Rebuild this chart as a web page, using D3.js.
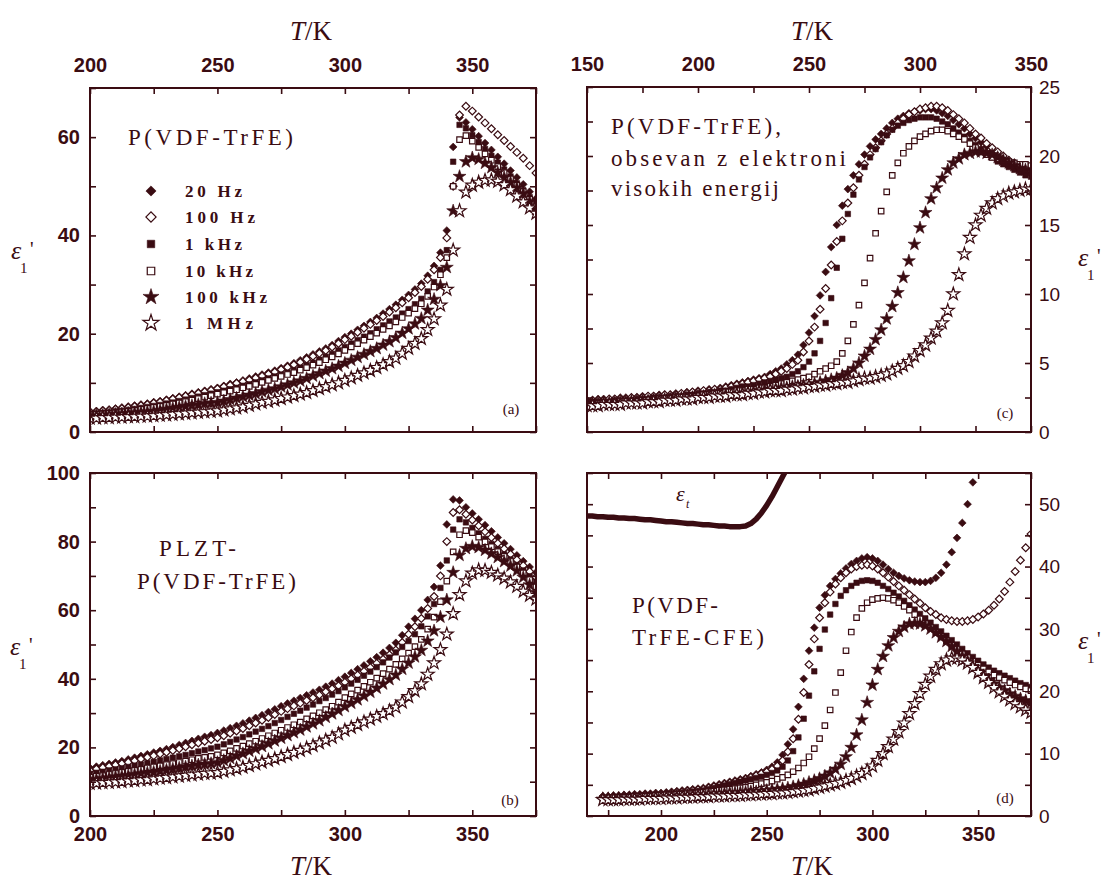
<!DOCTYPE html>
<html lang="sl">
<head>
<meta charset="UTF-8">
<title>Dielektricnost P(VDF-TrFE)</title>
<script src="https://cdn.jsdelivr.net/npm/d3@7"></script>
<style>
  body { margin: 0; background: #fff; }
  svg { display: block; }
</style>
</head>
<body>
<div id="chart"></div>
<script>
// measurement temperatures (K)
const tempAB = [
  200,202.5,205,207.5,210,212.5,215,217.5,220,222.5,
  225,227.5,230,232.5,235,237.5,240,242.5,245,247.5,
  250,252.5,255,257.5,260,262.5,265,267.5,270,272.5,
  275,277.5,280,282.5,285,287.5,290,292.5,295,297.5,
  300,302.5,305,307.5,310,312.5,315,317.5,320,322.5,
  325,327.5,330,332.5,335,337.5,340,342.5,345,347.5,
  350,352.5,355,357.5,360,362.5,365,367.5,370,372.5,
  375];
const tempC = [
  150,152.5,155,157.5,160,162.5,165,167.5,170,172.5,
  175,177.5,180,182.5,185,187.5,190,192.5,195,197.5,
  200,202.5,205,207.5,210,212.5,215,217.5,220,222.5,
  225,227.5,230,232.5,235,237.5,240,242.5,245,247.5,
  250,252.5,255,257.5,260,262.5,265,267.5,270,272.5,
  275,277.5,280,282.5,285,287.5,290,292.5,295,297.5,
  300,302.5,305,307.5,310,312.5,315,317.5,320,322.5,
  325,327.5,330,332.5,335,337.5,340,342.5,345,347.5,
  350];
const tempD = [
  172.5,175,177.5,180,182.5,185,187.5,190,192.5,195,
  197.5,200,202.5,205,207.5,210,212.5,215,217.5,220,
  222.5,225,227.5,230,232.5,235,237.5,240,242.5,245,
  247.5,250,252.5,255,257.5,260,262.5,265,267.5,270,
  272.5,275,277.5,280,282.5,285,287.5,290,292.5,295,
  297.5,300,302.5,305,307.5,310,312.5,315,317.5,320,
  322.5,325,327.5,330,332.5,335,337.5,340,342.5,345,
  347.5,350,352.5,355,357.5,360,362.5,365,367.5,370,
  372.5,375];
const tempEt = [
  165,167.5,170,172.5,175,177.5,180,182.5,185,187.5,
  190,192.5,195,197.5,200,202.5,205,207.5,210,212.5,
  215,217.5,220,222.5,225,227.5,230,232.5,235,237.5,
  240,242.5,245,247.5,250,252.5,255,257.5,260];

const freqs = ["20 Hz", "100 Hz", "1 kHz", "10 kHz", "100 kHz", "1 MHz"];

// (a) P(VDF-TrFE)
const a20 = [
  4.2,4.3,4.5,4.6,4.8,5.0,5.2,5.4,5.6,5.8,
  6.1,6.3,6.6,6.9,7.2,7.5,7.8,8.1,8.4,8.7,
  9.0,9.4,9.8,10.1,10.5,10.9,11.3,11.7,12.1,12.5,
  13.0,13.5,14.0,14.6,15.2,15.8,16.4,17.0,17.7,18.5,
  19.3,20.0,20.8,21.6,22.4,23.2,24.1,25.0,25.9,26.9,
  27.9,29.0,30.2,31.8,33.8,36.5,41.0,58.0,64.0,63.0,
  61.6,60.2,58.8,57.4,56.0,54.6,53.2,51.8,50.4,48.9,
  47.5];
const a100 = [
  4.0,4.1,4.3,4.4,4.6,4.8,5.0,5.2,5.4,5.6,
  5.9,6.1,6.4,6.7,7.0,7.3,7.6,7.9,8.2,8.5,
  8.8,9.2,9.5,9.9,10.3,10.6,11.0,11.4,11.8,12.2,
  12.7,13.2,13.7,14.2,14.8,15.4,16.0,16.6,17.3,18.0,
  18.8,19.5,20.3,21.1,21.9,22.7,23.5,24.4,25.3,26.3,
  27.3,28.4,29.6,31.1,33.0,35.5,39.5,50.0,64.5,66.3,
  65.3,64.1,62.9,61.7,60.5,59.3,58.1,56.9,55.7,54.2,
  52.7];
const a1k = [
  3.7,3.8,3.9,4.0,4.2,4.3,4.5,4.7,4.9,5.1,
  5.3,5.5,5.8,6.0,6.3,6.6,6.9,7.2,7.5,7.8,
  8.1,8.4,8.7,9.0,9.4,9.7,10.1,10.5,10.9,11.3,
  11.7,12.1,12.6,13.1,13.6,14.1,14.7,15.3,15.9,16.6,
  17.3,18.0,18.7,19.4,20.1,20.9,21.7,22.5,23.3,24.1,
  25.0,26.0,27.1,28.6,30.5,33.0,37.0,55.0,62.5,61.8,
  60.4,59.0,57.6,56.2,54.8,53.4,52.0,50.6,49.2,47.8,
  46.5];
const a10k = [
  3.5,3.6,3.7,3.8,3.9,4.1,4.2,4.4,4.6,4.8,
  5.0,5.2,5.4,5.7,5.9,6.2,6.5,6.8,7.1,7.4,
  7.7,8.0,8.3,8.6,9.0,9.3,9.7,10.1,10.5,10.9,
  11.3,11.7,12.1,12.6,13.1,13.6,14.1,14.7,15.3,15.9,
  16.6,17.3,18.0,18.7,19.4,20.1,20.9,21.6,22.4,23.3,
  24.2,25.1,26.1,27.6,29.5,32.0,35.5,50.0,59.5,60.3,
  59.2,57.9,56.6,55.3,54.0,52.8,51.5,50.2,48.9,47.4,
  45.8];
const a100k = [
  3.2,3.3,3.4,3.5,3.6,3.7,3.8,3.9,4.0,4.1,
  4.2,4.4,4.6,4.8,5.0,5.2,5.4,5.6,5.8,5.9,
  6.0,6.3,6.6,6.9,7.2,7.5,7.8,8.2,8.5,8.8,
  9.2,9.6,10.0,10.4,10.9,11.4,11.9,12.4,12.9,13.4,
  14.0,14.6,15.2,15.8,16.4,17.0,17.7,18.4,19.2,20.1,
  21.0,22.0,23.1,24.8,27.0,29.8,33.5,45.0,52.0,55.0,
  55.8,55.5,54.7,53.8,52.8,51.8,50.8,49.7,48.5,46.9,
  45.3];
const a1M = [
  2.8,2.8,2.9,2.9,3.0,3.0,3.1,3.1,3.2,3.2,
  3.3,3.4,3.5,3.6,3.7,3.8,3.9,4.0,4.1,4.2,
  4.3,4.5,4.7,4.9,5.1,5.4,5.7,6.0,6.2,6.5,
  6.8,7.1,7.4,7.7,8.0,8.4,8.8,9.2,9.6,10.0,
  10.5,11.0,11.5,12.0,12.5,13.1,13.7,14.3,15.0,16.0,
  17.0,18.0,19.0,20.8,23.0,25.8,29.0,37.0,45.0,48.8,
  50.2,50.8,51.2,51.3,51.0,50.3,49.3,48.0,46.8,45.6,
  44.5];

// (b) PLZT - P(VDF-TrFE)
const b20 = [
  14.0,14.4,14.8,15.2,15.6,16.0,16.5,17.0,17.5,18.0,
  18.5,19.0,19.5,20.1,20.7,21.3,21.9,22.5,23.1,23.6,
  24.2,24.9,25.6,26.3,27.0,27.8,28.6,29.4,30.3,31.1,
  32.0,32.8,33.6,34.4,35.2,36.0,36.8,37.7,38.6,39.6,
  40.6,41.7,42.8,43.9,45.1,46.3,47.6,49.0,50.5,52.7,
  55.2,57.5,60.0,63.0,66.8,73.0,85.0,92.3,92.0,90.0,
  88.2,86.5,84.8,83.0,81.2,79.5,77.8,76.0,74.3,72.6,
  71.0];
const b100 = [
  13.3,13.7,14.1,14.5,14.9,15.3,15.7,16.1,16.6,17.1,
  17.6,18.1,18.6,19.1,19.6,20.2,20.8,21.3,21.8,22.3,
  22.8,23.4,24.1,24.8,25.5,26.3,27.1,27.9,28.7,29.6,
  30.5,31.3,32.1,32.9,33.7,34.5,35.3,36.2,37.1,38.0,
  39.0,40.0,41.1,42.2,43.3,44.5,45.7,47.0,48.4,50.6,
  53.0,55.2,57.6,60.5,64.0,70.0,80.0,88.5,89.3,88.0,
  86.3,84.6,82.9,81.2,79.5,77.9,76.3,74.7,73.0,71.3,
  69.6];
const b1k = [
  12.3,12.6,12.9,13.3,13.6,13.9,14.3,14.7,15.0,15.4,
  15.8,16.2,16.6,17.0,17.4,17.8,18.3,18.8,19.2,19.7,
  20.2,20.9,21.6,22.3,23.0,23.8,24.6,25.4,26.2,27.1,
  28.0,28.9,29.8,30.7,31.6,32.5,33.5,34.4,35.4,36.4,
  37.5,38.6,39.7,40.9,42.1,43.4,44.8,46.2,47.7,49.3,
  51.0,53.0,55.3,58.2,61.8,66.5,74.5,83.5,86.5,85.6,
  84.0,82.4,80.8,79.3,77.8,76.3,74.8,73.2,71.6,69.9,
  68.3];
const b10k = [
  11.3,11.6,11.8,12.1,12.4,12.7,13.0,13.3,13.6,14.0,
  14.3,14.6,15.0,15.3,15.6,16.0,16.4,16.8,17.1,17.4,
  17.8,18.4,19.0,19.7,20.4,21.1,21.8,22.6,23.4,24.2,
  25.0,25.8,26.6,27.4,28.3,29.2,30.1,31.0,32.0,33.2,
  34.5,35.6,36.7,37.8,39.0,40.2,41.5,42.8,44.2,45.8,
  47.5,49.4,51.5,54.5,58.0,62.5,68.5,77.0,82.0,83.2,
  82.6,81.3,79.9,78.5,77.1,75.7,74.2,72.6,70.9,68.9,
  66.8];
const b100k = [
  10.5,10.7,10.9,11.1,11.4,11.6,11.8,12.1,12.3,12.6,
  12.8,13.1,13.4,13.7,14.0,14.3,14.6,14.9,15.1,15.3,
  15.6,16.2,16.8,17.5,18.2,18.9,19.6,20.3,21.1,21.9,
  22.7,23.5,24.3,25.1,26.0,26.9,27.8,28.8,29.8,30.8,
  31.9,32.9,33.9,35.0,36.1,37.3,38.5,39.8,41.1,42.8,
  44.6,46.4,48.3,51.0,54.0,58.0,63.0,71.0,76.0,78.0,
  78.6,78.3,77.5,76.5,75.4,74.2,72.9,71.5,69.6,67.4,
  65.2];
const b1M = [
  9.5,9.6,9.7,9.8,9.9,10.0,10.2,10.3,10.5,10.6,
  10.8,11.0,11.2,11.4,11.6,11.8,12.0,12.2,12.4,12.5,
  12.6,13.0,13.4,13.8,14.2,14.7,15.2,15.7,16.2,16.7,
  17.3,17.9,18.5,19.1,19.8,20.5,21.3,22.1,22.9,23.9,
  25.0,25.8,26.6,27.4,28.2,29.0,29.8,30.7,31.7,33.2,
  34.8,36.5,38.5,41.3,44.6,48.5,53.0,59.0,64.5,68.5,
  70.8,71.7,71.6,71.0,70.2,69.3,68.2,66.9,65.5,64.3,
  63.2];

// (c) P(VDF-TrFE), obsevan z elektroni visokih energij
const c20 = [
  2.3,2.3,2.4,2.4,2.4,2.4,2.5,2.5,2.5,2.5,
  2.6,2.6,2.6,2.7,2.7,2.7,2.8,2.8,2.9,2.9,
  3.0,3.0,3.1,3.1,3.2,3.3,3.4,3.5,3.6,3.7,
  3.8,3.9,4.0,4.2,4.4,4.6,4.9,5.2,5.6,6.3,
  7.2,8.4,9.9,11.6,13.4,15.0,16.4,17.6,18.6,19.4,
  20.1,20.7,21.2,21.6,22.0,22.4,22.7,22.9,23.1,23.2,
  23.3,23.4,23.4,23.3,23.1,22.9,22.6,22.3,22.0,21.6,
  21.3,21.0,20.7,20.4,20.1,19.8,19.6,19.4,19.2,19.0,
  18.8];
const c100 = [
  2.2,2.3,2.3,2.3,2.4,2.4,2.4,2.4,2.5,2.5,
  2.5,2.6,2.6,2.6,2.7,2.7,2.7,2.8,2.8,2.9,
  2.9,3.0,3.0,3.1,3.1,3.2,3.3,3.4,3.5,3.6,
  3.7,3.8,3.9,4.0,4.2,4.4,4.6,4.9,5.2,5.8,
  6.6,7.6,8.9,10.4,12.1,13.8,15.3,16.6,17.7,18.6,
  19.4,20.1,20.6,21.1,21.6,22.0,22.4,22.7,23.0,23.2,
  23.4,23.5,23.6,23.6,23.5,23.3,23.0,22.7,22.4,22.0,
  21.6,21.3,20.9,20.6,20.3,20.0,19.7,19.5,19.3,19.1,
  18.9];
const c1k = [
  2.1,2.2,2.2,2.2,2.2,2.3,2.3,2.3,2.3,2.4,
  2.4,2.4,2.5,2.5,2.5,2.6,2.6,2.6,2.7,2.7,
  2.8,2.8,2.9,2.9,3.0,3.0,3.1,3.2,3.3,3.3,
  3.4,3.5,3.6,3.7,3.8,3.9,4.0,4.2,4.4,4.7,
  5.1,5.7,6.6,7.9,9.7,11.9,14.0,15.8,17.2,18.3,
  19.2,19.9,20.5,21.0,21.5,21.9,22.2,22.4,22.6,22.7,
  22.8,22.8,22.8,22.7,22.5,22.3,22.0,21.7,21.4,21.1,
  20.8,20.5,20.2,19.9,19.6,19.4,19.2,19.0,18.8,18.6,
  18.5];
const c10k = [
  2.0,2.0,2.1,2.1,2.1,2.1,2.2,2.2,2.2,2.2,
  2.3,2.3,2.3,2.4,2.4,2.4,2.5,2.5,2.5,2.6,
  2.6,2.7,2.7,2.8,2.8,2.9,2.9,3.0,3.0,3.1,
  3.1,3.2,3.2,3.3,3.4,3.5,3.6,3.7,3.8,3.9,
  4.0,4.2,4.4,4.6,4.8,5.1,5.7,6.6,7.8,9.2,
  10.8,12.6,14.4,16.0,17.4,18.6,19.5,20.2,20.7,21.1,
  21.4,21.6,21.8,21.9,21.9,21.8,21.6,21.4,21.2,20.9,
  20.6,20.3,20.1,19.9,19.8,19.7,19.6,19.5,19.4,19.4,
  19.3];
const c100k = [
  2.0,2.0,2.0,2.0,2.1,2.1,2.1,2.1,2.2,2.2,
  2.2,2.2,2.3,2.3,2.3,2.3,2.4,2.4,2.4,2.5,
  2.5,2.5,2.6,2.6,2.6,2.7,2.7,2.8,2.8,2.9,
  2.9,3.0,3.0,3.1,3.1,3.2,3.2,3.3,3.3,3.4,
  3.4,3.5,3.6,3.7,3.8,3.9,4.1,4.3,4.6,5.0,
  5.5,6.0,6.7,7.4,8.2,9.1,10.1,11.2,12.4,13.6,
  14.8,15.9,16.9,17.7,18.4,19.0,19.5,19.8,20.1,20.2,
  20.3,20.3,20.2,20.1,19.9,19.7,19.5,19.3,19.1,19.0,
  18.9];
const c1M = [
  1.9,1.9,1.9,2.0,2.0,2.0,2.0,2.1,2.1,2.1,
  2.1,2.2,2.2,2.2,2.3,2.3,2.3,2.4,2.4,2.4,
  2.5,2.5,2.5,2.6,2.6,2.6,2.7,2.7,2.7,2.8,
  2.8,2.9,2.9,3.0,3.0,3.0,3.1,3.1,3.2,3.2,
  3.3,3.3,3.4,3.4,3.5,3.5,3.6,3.6,3.7,3.8,
  3.9,3.9,4.0,4.1,4.2,4.4,4.6,4.8,5.1,5.5,
  5.9,6.3,6.8,7.3,7.9,8.8,10.0,11.4,12.9,14.1,
  15.0,15.7,16.2,16.6,16.9,17.1,17.3,17.4,17.5,17.6,
  17.6];

// (d) P(VDF-TrFE-CFE)
const d20 = [
  3.2,3.2,3.3,3.3,3.4,3.4,3.5,3.5,3.6,3.6,
  3.7,3.7,3.8,3.9,4.0,4.1,4.2,4.3,4.4,4.5,
  4.7,4.9,5.1,5.3,5.5,5.7,5.9,6.1,6.4,6.7,
  7.0,7.4,7.9,8.6,9.8,11.5,13.9,17.5,22.0,26.5,
  30.2,33.4,35.4,36.9,38.0,38.9,39.7,40.4,40.9,41.3,
  41.5,41.3,40.9,40.3,39.6,39.0,38.5,38.1,37.8,37.6,
  37.5,37.5,37.7,38.2,39.0,40.3,42.3,44.6,47.0,50.0,
  53.5,57.5,null,null,null,null,null,null,null,null,
  null,null];
const d100 = [
  3.0,3.0,3.1,3.1,3.2,3.2,3.3,3.3,3.4,3.4,
  3.5,3.5,3.6,3.7,3.8,3.9,4.0,4.1,4.2,4.3,
  4.5,4.7,4.9,5.1,5.3,5.5,5.7,5.9,6.2,6.5,
  6.8,7.1,7.5,8.0,8.9,10.3,12.4,15.5,19.8,24.3,
  28.4,31.8,34.2,35.9,37.2,38.2,39.0,39.6,40.0,40.2,
  40.3,40.1,39.6,39.0,38.3,37.6,36.9,36.2,35.5,34.8,
  34.1,33.4,32.8,32.3,31.8,31.5,31.3,31.2,31.2,31.3,
  31.5,31.9,32.4,33.0,33.8,34.8,36.0,37.5,39.2,41.0,
  43.0,45.2];
const d1k = [
  2.9,2.9,3.0,3.0,3.1,3.1,3.2,3.2,3.3,3.3,
  3.4,3.4,3.5,3.5,3.6,3.7,3.8,3.9,4.0,4.1,
  4.3,4.5,4.7,4.9,5.1,5.3,5.5,5.7,5.9,6.1,
  6.3,6.6,6.9,7.3,7.9,8.9,10.4,12.6,15.6,19.3,
  23.2,26.8,29.9,32.3,34.0,35.3,36.2,36.9,37.4,37.7,
  37.8,37.7,37.4,36.9,36.4,35.8,35.2,34.5,33.8,33.1,
  32.4,31.7,31.0,30.3,29.6,28.9,28.2,27.5,26.8,26.1,
  25.5,24.9,24.3,23.8,23.3,22.9,22.5,22.1,21.7,21.3,
  21.0,20.7];
const d10k = [
  2.8,2.8,2.9,2.9,3.0,3.0,3.1,3.1,3.2,3.2,
  3.3,3.3,3.4,3.4,3.5,3.5,3.6,3.6,3.7,3.8,
  3.9,4.0,4.1,4.2,4.3,4.4,4.5,4.6,4.8,5.0,
  5.2,5.4,5.6,5.9,6.2,6.6,7.1,7.7,8.5,9.5,
  10.8,12.4,14.5,17.0,19.8,23.0,26.5,29.5,31.8,33.3,
  34.2,34.7,34.9,35.0,34.9,34.6,34.2,33.6,33.0,32.3,
  31.6,30.9,30.2,29.5,28.8,28.1,27.4,26.7,26.0,25.4,
  24.8,24.2,23.6,23.1,22.6,22.2,21.8,21.4,21.0,20.7,
  20.4,20.1];
const d100k = [
  2.7,2.7,2.7,2.8,2.8,2.8,2.9,2.9,2.9,3.0,
  3.0,3.0,3.1,3.1,3.2,3.2,3.3,3.3,3.4,3.4,
  3.5,3.5,3.6,3.6,3.7,3.7,3.8,3.8,3.9,3.9,
  4.0,4.1,4.2,4.3,4.4,4.5,4.7,4.9,5.1,5.4,
  5.7,6.0,6.4,6.9,7.5,8.3,9.5,11.0,13.0,15.4,
  18.2,21.0,23.5,25.6,27.3,28.6,29.6,30.3,30.8,30.9,
  30.8,30.5,30.0,29.4,28.7,28.0,27.2,26.4,25.6,24.8,
  24.0,23.2,22.5,21.8,21.2,20.6,20.1,19.6,19.2,18.8,
  18.5,18.2];
const d1M = [
  2.6,2.6,2.6,2.6,2.7,2.7,2.7,2.7,2.8,2.8,
  2.8,2.8,2.9,2.9,2.9,3.0,3.0,3.0,3.1,3.1,
  3.1,3.2,3.2,3.2,3.3,3.3,3.3,3.4,3.4,3.5,
  3.5,3.6,3.6,3.7,3.7,3.8,3.9,4.0,4.1,4.2,
  4.4,4.6,4.8,5.0,5.2,5.4,5.7,6.0,6.4,6.8,
  7.3,8.0,8.9,10.0,11.1,12.3,13.5,14.9,16.4,18.0,
  19.6,21.1,22.4,23.5,24.4,25.0,25.3,25.3,25.0,24.5,
  23.8,23.0,22.2,21.4,20.6,19.9,19.2,18.6,18.0,17.5,
  17.0,16.6];
// epsilon_t curve in (d)
const dEt = [
  48.1,48.1,48.0,48.0,47.9,47.9,47.8,47.8,47.7,47.7,
  47.6,47.5,47.5,47.4,47.3,47.2,47.2,47.1,47.0,46.9,
  46.9,46.8,46.7,46.7,46.6,46.5,46.5,46.4,46.4,46.4,
  46.5,46.9,47.6,48.6,49.8,51.2,52.8,54.4,56.0];

const ink = "#3a0c12";
const markerKind = ["diamond", "diamond", "square", "square", "star", "star"];
const markerFilled = [true, false, true, false, true, false];
const dataArea = { diamond: 30, square: 30, star: 52 };
const legendArea = { diamond: 52, square: 56, star: 80 };
const symbolType = { diamond: d3.symbolSquare, square: d3.symbolSquare, star: d3.symbolStar };

const svg = d3.select("#chart").append("svg")
    .attr("width", 1107)
    .attr("height", 880)
    .style("background", "#fff");

function addText(x, y, str, o) {
    const t = svg.append("text")
        .attr("x", x).attr("y", y)
        .attr("fill", ink)
        .style("font-family", o.family || "'Liberation Serif', serif")
        .style("font-size", (o.size || 20) + "px")
        .style("font-weight", o.weight || "normal")
        .style("font-style", o.style || "normal")
        .attr("text-anchor", o.anchor || "start")
        .text(str);
    if (o.len) t.attr("textLength", o.len).attr("lengthAdjust", "spacing");
    return t;
}

function marker(g, k, area, cx, cy) {
    const kind = markerKind[k];
    g.append("path")
        .attr("d", d3.symbol(symbolType[kind], area[kind])())
        .attr("transform", `translate(${cx},${cy})` + (kind === "diamond" ? " rotate(45)" : ""))
        .attr("fill", markerFilled[k] ? ink : "#fff")
        .attr("stroke", ink)
        .attr("stroke-width", markerFilled[k] ? 0.6 : 1.2);
}

function drawPanel(p) {
    const [x0, x1, y0, y1] = p.box;
    const x = d3.scaleLinear().domain(p.xDom).range([x0, x1]);
    const y = d3.scaleLinear().domain(p.yDom).range([y1, y0]);

    svg.append("clipPath").attr("id", "clip-" + p.id)
        .append("rect").attr("x", x0).attr("y", y0).attr("width", x1 - x0).attr("height", y1 - y0);
    const plot = svg.append("g").attr("clip-path", `url(#clip-${p.id})`);

    if (p.line) {
        plot.append("path")
            .datum(d3.zip(p.line.temps, p.line.vals))
            .attr("d", d3.line().x(d => x(d[0])).y(d => y(d[1])))
            .attr("fill", "none").attr("stroke", ink)
            .attr("stroke-width", 5.5).attr("stroke-linejoin", "round");
    }

    p.series.forEach((vals, k) => {
        const g = plot.append("g");
        p.temps.forEach((t, i) => {
            if (vals[i] == null) return;
            marker(g, k, dataArea, x(t), y(vals[i]));
        });
    });

    // frame
    svg.append("rect")
        .attr("x", x0).attr("y", y0).attr("width", x1 - x0).attr("height", y1 - y0)
        .attr("fill", "none").attr("stroke", ink).attr("stroke-width", 2);

    // ticks on all four sides, labels only on the outer ones
    const sides = [
        { ax: d3.axisTop(x), at: `translate(0,${y0})`, vals: p.xTicks, lab: p.xSide === "top" ? p.xLab : [], pad: 16, cls: "x" },
        { ax: d3.axisBottom(x), at: `translate(0,${y1})`, vals: p.xTicks, lab: p.xSide === "bottom" ? p.xLab : [], pad: 11, cls: "x" },
        { ax: d3.axisLeft(y), at: `translate(${x0},0)`, vals: p.yTicks, lab: p.ySide === "left" ? p.yLab : [], pad: 10, cls: "yl" },
        { ax: d3.axisRight(y), at: `translate(${x1},0)`, vals: p.yTicks, lab: p.ySide === "right" ? p.yLab : [], pad: 8, cls: "yr" }
    ];
    sides.forEach(s => {
        const g = svg.append("g").attr("transform", s.at)
            .call(s.ax.tickValues(s.vals).tickSize(-6).tickPadding(s.pad)
                .tickFormat(v => s.lab.includes(v) ? String(v) : ""));
        g.select(".domain").remove();
        g.selectAll(".tick line").attr("stroke", ink).attr("stroke-width", 1.6);
        g.selectAll(".tick text")
            .attr("fill", ink)
            .style("font-family", "'Liberation Sans', Arial, sans-serif")
            .style("font-size", s.cls === "yr" ? "19px" : "20px")
            .style("font-weight", s.cls === "yr" ? "normal" : "bold");
    });

    addText(p.tag[0], p.tag[1], p.tag[2], { size: 15, anchor: "middle" });
}

const panels = [
    { id: "a", box: [90, 536, 88, 432], xDom: [200, 375], yDom: [0, 70], temps: tempAB,
      series: [a20, a100, a1k, a10k, a100k, a1M],
      xTicks: d3.range(200, 376, 25), xLab: [200, 250, 300, 350], xSide: "top",
      yTicks: d3.range(0, 71, 10), yLab: [0, 20, 40, 60], ySide: "left", tag: [511, 414, "(a)"] },
    { id: "b", box: [90, 536, 473, 816], xDom: [200, 375], yDom: [0, 100], temps: tempAB,
      series: [b20, b100, b1k, b10k, b100k, b1M],
      xTicks: d3.range(200, 376, 25), xLab: [200, 250, 300, 350], xSide: "bottom",
      yTicks: d3.range(0, 101, 10), yLab: [0, 20, 40, 60, 80, 100], ySide: "left", tag: [510, 805, "(b)"] },
    { id: "c", box: [587, 1031, 87, 432], xDom: [150, 350], yDom: [0, 25], temps: tempC,
      series: [c20, c100, c1k, c10k, c100k, c1M],
      xTicks: d3.range(150, 351, 25), xLab: [150, 200, 250, 300, 350], xSide: "top",
      yTicks: d3.range(0, 25.1, 2.5), yLab: [0, 5, 10, 15, 20, 25], ySide: "right", tag: [1005, 418, "(c)"] },
    { id: "d", box: [587, 1031, 473, 816], xDom: [165, 375], yDom: [0, 55], temps: tempD,
      series: [d20, d100, d1k, d10k, d100k, d1M], line: { temps: tempEt, vals: dEt },
      xTicks: d3.range(175, 376, 25), xLab: [200, 250, 300, 350], xSide: "bottom",
      yTicks: d3.range(0, 56, 5), yLab: [0, 10, 20, 30, 40, 50], ySide: "right", tag: [1005, 803, "(d)"] }
];
panels.forEach(drawPanel);

// axis titles T/K
[[311, 40], [812, 40], [311, 875], [812, 875]].forEach(([cx, by]) => {
    const t = addText(cx, by, "", { size: 27, anchor: "middle" });
    t.append("tspan").style("font-style", "italic").text("T");
    t.append("tspan").text("/K");
});

// y titles epsilon_1'
[[11, 259], [10, 655], [1078, 266], [1078, 649]].forEach(([ex, ey]) => {
    addText(ex, ey, "\u03b5", { size: 26, style: "italic" });
    addText(ex + 9, ey + 14, "1", { size: 15 });
    addText(ex + 19, ey - 3, "'", { size: 20 });
});

// panel annotations
addText(128, 145, "P(VDF-TrFE)", { size: 23, len: 165 });
addText(159, 556, "PLZT-", { size: 23, len: 77 });
addText(137, 589, "P(VDF-TrFE)", { size: 23, len: 159 });
addText(611, 134, "P(VDF-TrFE),", { size: 23, len: 170 });
addText(611, 166, "obsevan z elektroni", { size: 23, len: 235 });
addText(611, 196, "visokih energij", { size: 23, len: 168 });
addText(632, 613, "P(VDF-", { size: 23, len: 86 });
addText(632, 645, "TrFE-CFE)", { size: 23, len: 132 });
addText(676, 501, "\u03b5", { size: 22, style: "italic" });
addText(686, 508, "t", { size: 12, style: "italic" });

// legend in (a)
const legLen = [57, 70, 57, 68, 82, 68];
const legRows = [191, 217, 244, 271, 297, 323];
const leg = svg.append("g");
freqs.forEach((f, k) => {
    marker(leg, k, legendArea, 151, legRows[k]);
    addText(185, legRows[k] + 6, f, { size: 17, weight: "bold", len: legLen[k] });
});
</script>
</body>
</html>
